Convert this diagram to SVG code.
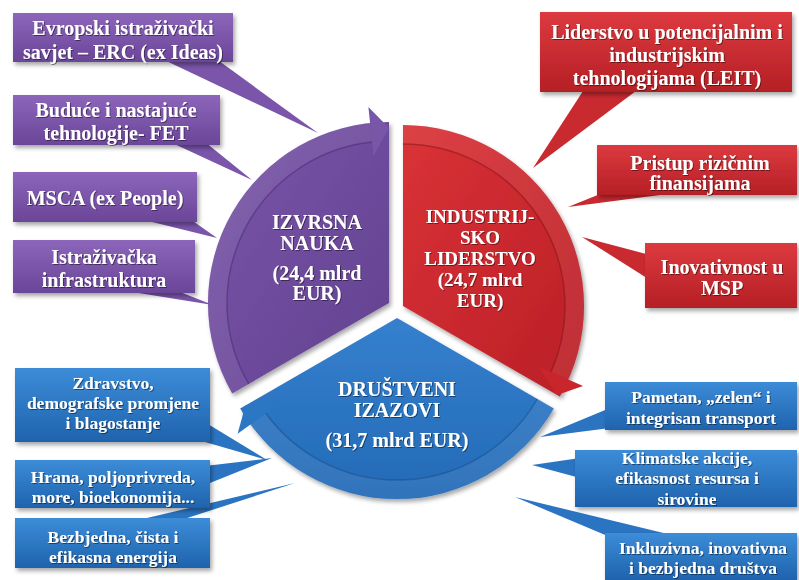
<svg xmlns="http://www.w3.org/2000/svg" width="799" height="580" viewBox="0 0 799 580">
<defs>
<linearGradient id="gP" x1="0" y1="0" x2="0" y2="1"><stop offset="0" stop-color="#8C66BA"/><stop offset="1" stop-color="#6A4598"/></linearGradient>
<linearGradient id="gR" x1="0" y1="0" x2="0" y2="1"><stop offset="0" stop-color="#DC3A3F"/><stop offset="1" stop-color="#B51F25"/></linearGradient>
<linearGradient id="gB" x1="0" y1="0" x2="0" y2="1"><stop offset="0" stop-color="#3C8CD8"/><stop offset="1" stop-color="#1F63AD"/></linearGradient>
<linearGradient id="sP" x1="0" y1="0" x2="1" y2="1"><stop offset="0" stop-color="#7A57AA"/><stop offset="1" stop-color="#62408F"/></linearGradient>
<linearGradient id="sR" x1="0" y1="0" x2="1" y2="1"><stop offset="0" stop-color="#DA3237"/><stop offset="1" stop-color="#B91F26"/></linearGradient>
<linearGradient id="sB" x1="0" y1="0" x2="0" y2="1"><stop offset="0" stop-color="#3580CE"/><stop offset="1" stop-color="#236AB6"/></linearGradient>
<filter id="sh" x="-10%" y="-10%" width="130%" height="140%"><feDropShadow dx="2" dy="3" stdDeviation="2" flood-color="#000" flood-opacity="0.35"/></filter>
<filter id="ts" x="-5%" y="-20%" width="110%" height="150%"><feDropShadow dx="1" dy="1" stdDeviation="0.7" flood-color="#000" flood-opacity="0.45"/></filter>
</defs>
<style>
.t{font-family:"Liberation Serif","Times New Roman",serif;font-weight:bold;fill:#fff;text-anchor:middle;font-size:20px}
.s{font-size:17.5px}
.r{font-size:19px}
.band{fill:none;stroke:#fff;stroke-opacity:0.07;stroke-width:19}
.line{fill:none;stroke-width:1.5;stroke-opacity:0.55}
</style>
<rect width="799" height="580" fill="#fff"/>

<g id="connectors">
<polygon points="160,58 215,58 318,133" fill="#7A55AA"/>
<polygon points="170,142 205,142 252,180" fill="#7A55AA"/>
<polygon points="140,219 190,219 217,238" fill="#7A55AA"/>
<polygon points="120,290 175,290 213,305" fill="#7A55AA"/>
<polygon points="585,88 640,88 533,168" fill="#C92A30"/>
<polygon points="610,190 660,195 568,207" fill="#C92A30"/>
<polygon points="650,255 650,280 582,237" fill="#C92A30"/>
<polygon points="198,418 205,442 267,460" fill="#2B74C2"/>
<polygon points="205,466 205,485 272,458" fill="#2B74C2"/>
<polygon points="130,522 175,522 295,483" fill="#2B74C2"/>
<polygon points="610,408 610,428 540,437" fill="#2B74C2"/>
<polygon points="580,458 580,478 532,465" fill="#2B74C2"/>
<polygon points="610,537 680,537 515,497" fill="#2B74C2"/>
</g>

<g id="izvrsna-nauka">
<path d="M389,303 L232.2,393.5 A181,181 0 0 1 389,122 Z" fill="url(#sP)" filter="url(#sh)"/>
<path class="band" d="M240.5,388.75 A171.5,171.5 0 0 1 371.1,132.4"/>
<path class="line" stroke="#4A2C75" d="M248.7,384 A162,162 0 0 1 372.1,141.9"/>
<polygon points="368.4,107.1 389,128 373.5,155.8" fill="#7857A8"/>
<g class="t" filter="url(#ts)">
<text x="317" y="229">IZVRSNA</text>
<text x="317" y="250">NAUKA</text>
<text x="317" y="280">(24,4 mlrd</text>
<text x="317" y="300">EUR)</text>
</g>
</g>

<g id="industrijsko-liderstvo">
<path d="M403,306 L403,125 A181,181 0 0 1 559.8,396.5 Z" fill="url(#sR)" filter="url(#sh)"/>
<path class="band" d="M403,134.5 A171.5,171.5 0 0 1 559.7,375.75"/>
<path class="line" stroke="#8A1418" d="M403,144 A162,162 0 0 1 551,371.9"/>
<polygon points="583,386.1 557,395 538.2,366.2" fill="#C8262C"/>
<g class="t r" filter="url(#ts)">
<text x="480" y="223">INDUSTRIJ-</text>
<text x="480" y="244">SKO</text>
<text x="480" y="265">LIDERSTVO</text>
<text x="480" y="286">(24,7 mlrd</text>
<text x="480" y="307">EUR)</text>
</g>
</g>

<g id="drustveni-izazovi">
<path d="M397,318 L553.8,408.5 A181,181 0 0 1 240.2,408.5 Z" fill="url(#sB)" filter="url(#sh)"/>
<path class="band" d="M545.5,403.75 A171.5,171.5 0 0 1 258.3,418.8"/>
<path class="line" stroke="#174F8E" d="M537.3,399 A162,162 0 0 1 265.9,413.2"/>
<polygon points="237.6,433.8 245.4,405.5 277.3,405" fill="#2C77C4"/>
<g class="t" filter="url(#ts)">
<text x="397" y="396">DRUŠTVENI</text>
<text x="397" y="417">IZAZOVI</text>
<text x="397" y="447">(31,7 mlrd EUR)</text>
</g>
</g>

<g id="erc"><rect x="13" y="13" width="220" height="49" fill="url(#gP)" filter="url(#sh)"/>
<g class="t" filter="url(#ts)"><text x="123" y="35">Evropski istraživački</text><text x="123" y="59">savjet – ERC (ex Ideas)</text></g></g>
<g id="fet"><rect x="13" y="95" width="207" height="50" fill="url(#gP)" filter="url(#sh)"/>
<g class="t" filter="url(#ts)"><text x="116" y="117">Buduće i nastajuće</text><text x="116" y="140">tehnologije- FET</text></g></g>
<g id="msca"><rect x="13" y="172" width="184" height="50" fill="url(#gP)" filter="url(#sh)"/>
<g class="t" filter="url(#ts)"><text x="105" y="205">MSCA (ex People)</text></g></g>
<g id="infra"><rect x="13" y="240" width="182" height="53" fill="url(#gP)" filter="url(#sh)"/>
<g class="t" filter="url(#ts)"><text x="104" y="264">Istraživačka</text><text x="104" y="287">infrastruktura</text></g></g>

<g id="leit"><rect x="540" y="12" width="252" height="80" fill="url(#gR)" filter="url(#sh)"/>
<g class="t" filter="url(#ts)"><text x="667" y="39">Liderstvo u potencijalnim i</text><text x="667" y="62">industrijskim</text><text x="667" y="85">tehnologijama (LEIT)</text></g></g>
<g id="rizicne"><rect x="597" y="145" width="200" height="50" fill="url(#gR)" filter="url(#sh)"/>
<g class="t" filter="url(#ts)"><text x="700" y="170">Pristup rizičnim</text><text x="700" y="190">finansijama</text></g></g>
<g id="msp"><rect x="645" y="243" width="152" height="65" fill="url(#gR)" filter="url(#sh)"/>
<g class="t" filter="url(#ts)"><text x="722" y="274">Inovativnost u</text><text x="722" y="295">MSP</text></g></g>

<g id="zdravstvo"><rect x="15" y="368" width="195" height="74" fill="url(#gB)" filter="url(#sh)"/>
<g class="t s" filter="url(#ts)"><text x="113" y="389">Zdravstvo,</text><text x="113" y="409">demografske promjene</text><text x="113" y="429">i blagostanje</text></g></g>
<g id="hrana"><rect x="15" y="460" width="195" height="48" fill="url(#gB)" filter="url(#sh)"/>
<g class="t s" filter="url(#ts)"><text x="113" y="483">Hrana, poljoprivreda,</text><text x="113" y="503">more, bioekonomija...</text></g></g>
<g id="energija"><rect x="15" y="518" width="195" height="50" fill="url(#gB)" filter="url(#sh)"/>
<g class="t s" filter="url(#ts)"><text x="113" y="543">Bezbjedna, čista i</text><text x="113" y="563">efikasna energija</text></g></g>
<g id="transport"><rect x="605" y="382" width="192" height="48" fill="url(#gB)" filter="url(#sh)"/>
<g class="t s" filter="url(#ts)"><text x="701" y="403">Pametan, „zelen“ i</text><text x="701" y="424">integrisan transport</text></g></g>
<g id="klima"><rect x="575" y="450" width="222" height="57" fill="url(#gB)" filter="url(#sh)"/>
<g class="t s" filter="url(#ts)"><text x="687" y="464">Klimatske akcije,</text><text x="687" y="484">efikasnost resursa i</text><text x="687" y="505">sirovine</text></g></g>
<g id="drustva"><rect x="605" y="533" width="192" height="47" fill="url(#gB)" filter="url(#sh)"/>
<g class="t s" filter="url(#ts)"><text x="703" y="554">Inkluzivna, inovativna</text><text x="703" y="574">i bezbjedna društva</text></g></g>
</svg>
